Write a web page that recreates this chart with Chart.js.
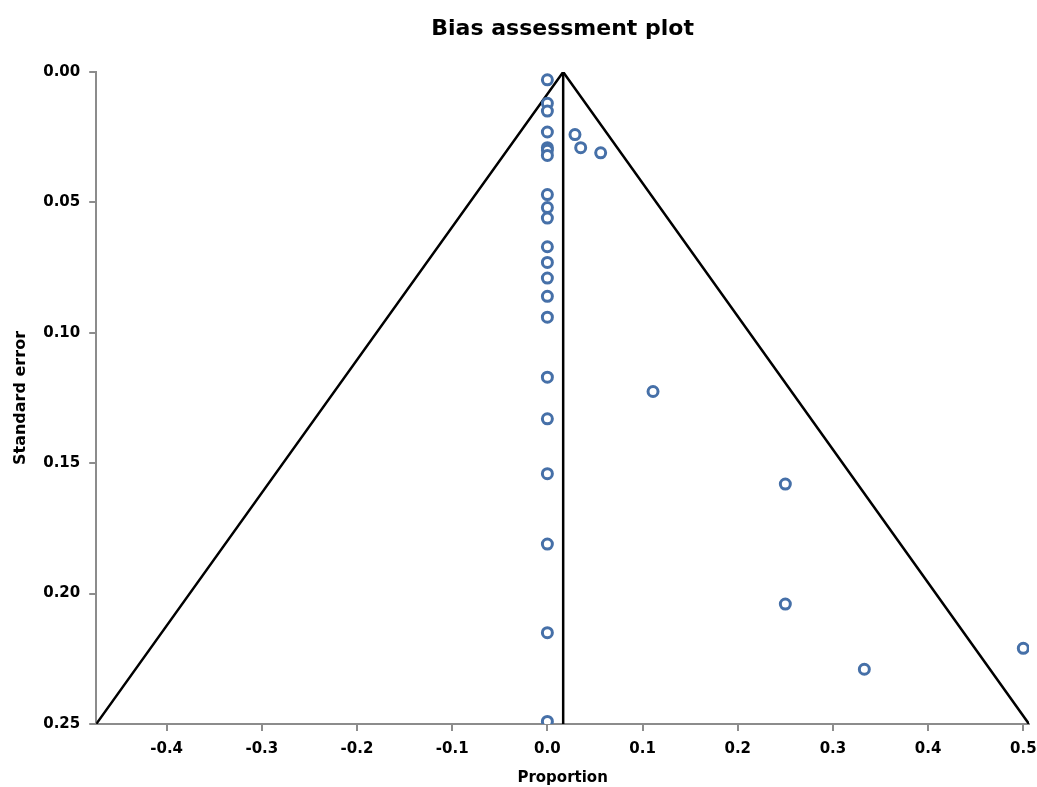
<!DOCTYPE html>
<html>
<head>
<meta charset="utf-8">
<title>Bias assessment plot</title>
<script src="https://cdn.jsdelivr.net/npm/chart.js@4.4.1/dist/chart.umd.min.js"></script>
<style>
  html, body { margin: 0; padding: 0; background: #fff; }
  #wrap { width: 1037px; height: 787px; }
</style>
</head>
<body>
<div id="wrap"><canvas id="funnelChart"></canvas></div>
<script>
// Études : proportion (x) et erreur standard (y)
var studyProp = [0, 0, 0, 0, 0, 0, 0, 0.029, 0.035, 0.056,
                 0, 0, 0, 0, 0, 0, 0, 0, 0, 0.111,
                 0, 0, 0.25, 0, 0.25, 0, 0.5, 0.333, 0];
var studySE = [0.003, 0.012, 0.015, 0.023, 0.029, 0.030, 0.032, 0.024, 0.029, 0.031,
               0.047, 0.052, 0.056, 0.067, 0.073, 0.079, 0.086, 0.094, 0.117, 0.1225,
               0.133, 0.154, 0.158, 0.181, 0.204, 0.215, 0.221, 0.229, 0.249];

// Entonnoir (limites) et estimation combinée
var funnelX = [-0.474, 0.0166, 0.506];
var funnelY = [0.25, 0, 0.25];
var pooledX = [0.0166, 0.0166];
var pooledY = [0, 0.25];

// Graduations
var xTicks = [-0.4, -0.3, -0.2, -0.1, 0, 0.1, 0.2, 0.3, 0.4, 0.5];
var yTicks = [0, 0.05, 0.10, 0.15, 0.20, 0.25];

function toPoints(xs, ys) {
    return xs.map(function (x, i) { return { x: x, y: ys[i] }; });
}

var fontFamily = '"DejaVu Sans", Verdana, sans-serif';
var axisGray = '#8c8c8c';

// Titre centré sur la zone de tracé
var titlePlugin = {
    id: 'areaTitle',
    afterDraw: function (chart) {
        var ctx = chart.ctx;
        var area = chart.chartArea;
        ctx.save();
        ctx.font = 'bold 22px ' + fontFamily;
        ctx.fillStyle = '#000';
        ctx.textAlign = 'center';
        ctx.textBaseline = 'middle';
        ctx.fillText('Bias assessment plot', (area.left + area.right) / 2, 29);
        ctx.restore();
    }
};

var ctx = document.getElementById('funnelChart').getContext('2d');
var chart = new Chart(ctx, {
    type: 'scatter',
    data: {
        datasets: [{
            label: 'Studies',
            data: toPoints(studyProp, studySE),
            pointStyle: 'circle',
            pointRadius: 5,
            pointBorderWidth: 3,
            pointBorderColor: '#4670a8',
            pointBackgroundColor: '#ffffff',
            pointHoverRadius: 5,
            order: 1
        }, {
            label: 'Funnel',
            data: toPoints(funnelX, funnelY),
            showLine: true,
            borderColor: '#000',
            borderWidth: 2.5,
            pointRadius: 0,
            fill: false,
            order: 2
        }, {
            label: 'Pooled',
            data: toPoints(pooledX, pooledY),
            showLine: true,
            borderColor: '#000',
            borderWidth: 2.5,
            pointRadius: 0,
            fill: false,
            order: 2
        }]
    },
    options: {
        responsive: true,
        maintainAspectRatio: false,
        animation: false,
        layout: { padding: { top: 72, right: 0, left: 11, bottom: 0 } },
        plugins: {
            legend: { display: false },
            tooltip: { enabled: false },
            title: { display: false }
        },
        scales: {
            x: {
                type: 'linear',
                min: funnelX[0],
                max: funnelX[2],
                afterBuildTicks: function (scale) {
                    scale.ticks = xTicks.map(function (v) { return { value: v }; });
                },
                // le dernier libellé peut déborder un peu vers la droite
                afterFit: function (scale) {
                    scale.paddingRight = 8;
                },
                ticks: {
                    color: '#000',
                    padding: 9,
                    font: { family: fontFamily, size: 15, weight: 'bold' },
                    callback: function (v) { return Number(v).toFixed(1); }
                },
                grid: { drawOnChartArea: false, drawTicks: true, tickLength: 7, color: axisGray, lineWidth: 2 },
                border: { display: true, color: axisGray, width: 2 },
                title: {
                    display: true,
                    text: 'Proportion',
                    color: '#000',
                    padding: { top: 2, bottom: 0 },
                    font: { family: fontFamily, size: 15, weight: 'bold' }
                }
            },
            y: {
                type: 'linear',
                reverse: true,
                min: 0,
                max: 0.25,
                afterBuildTicks: function (scale) {
                    scale.ticks = yTicks.map(function (v) { return { value: v }; });
                },
                ticks: {
                    color: '#000',
                    padding: 9,
                    font: { family: fontFamily, size: 15, weight: 'bold' },
                    callback: function (v) { return Number(v).toFixed(2); }
                },
                grid: { drawOnChartArea: false, drawTicks: true, tickLength: 7, color: axisGray, lineWidth: 2 },
                border: { display: true, color: axisGray, width: 2 },
                title: {
                    display: true,
                    text: 'Standard error',
                    color: '#000',
                    padding: { top: 0, bottom: 4 },
                    font: { family: fontFamily, size: 16, weight: 'bold' }
                }
            }
        }
    },
    plugins: [titlePlugin]
});
</script>
</body>
</html>
